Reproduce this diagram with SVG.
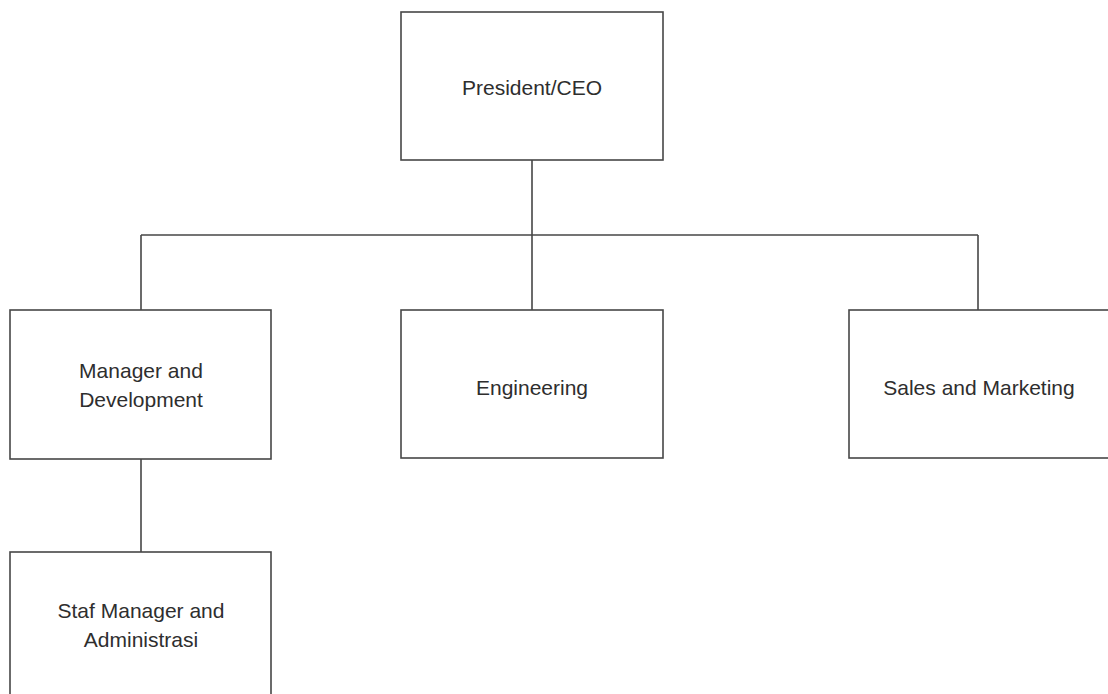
<svg xmlns="http://www.w3.org/2000/svg" width="1108" height="694" viewBox="0 0 1108 694">
<style>
.box{fill:#fff;stroke:#474747;stroke-width:1.6}
.ln{fill:none;stroke:#474747;stroke-width:1.6}
text{font-family:"Liberation Sans",Arial,sans-serif;font-size:21px;fill:#2e2e2e;text-anchor:middle}
</style>
<rect width="1108" height="694" fill="#fff"/>
<g id="connectors">
<path class="ln" d="M532 160V310M141 235H978M141 235V310M978 235V310M141 459V552"/>
</g>
<g id="ceo"><rect class="box" x="401" y="12" width="262" height="148"/><text x="532" y="95">President/CEO</text></g>
<g id="mgr"><rect class="box" x="10" y="310" width="261" height="149"/><text x="141" y="378">Manager and</text><text x="141" y="407">Development</text></g>
<g id="eng"><rect class="box" x="401" y="310" width="262" height="148"/><text x="532" y="395">Engineering</text></g>
<g id="sales"><rect class="box" x="849" y="310" width="262" height="148"/><text x="979" y="395">Sales and Marketing</text></g>
<g id="staf"><rect class="box" x="10" y="552" width="261" height="160"/><text x="141" y="618">Staf Manager and</text><text x="141" y="647">Administrasi</text></g>
</svg>
